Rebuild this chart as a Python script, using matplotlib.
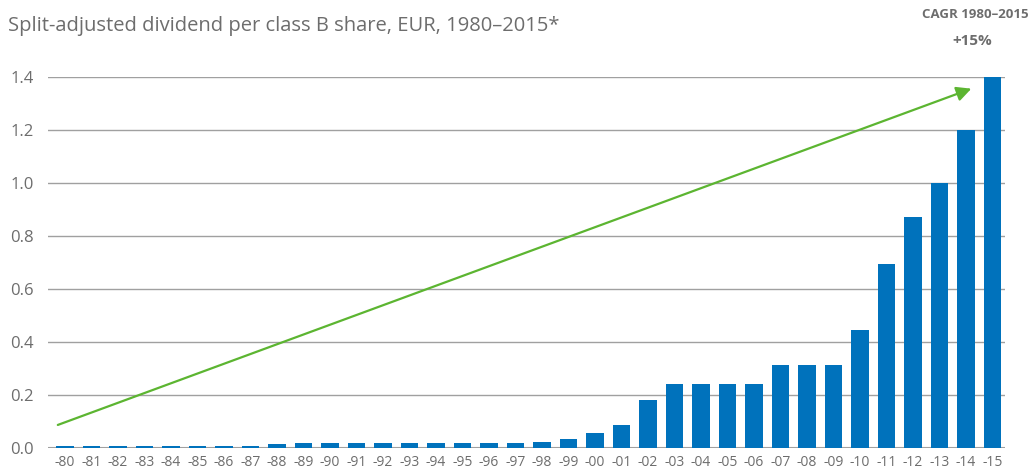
import matplotlib.pyplot as plt
import numpy as np

plt.rcParams['font.family'] = ['Open Sans', 'DejaVu Sans']

# data
years = ['-80', '-81', '-82', '-83', '-84', '-85', '-86', '-87', '-88', '-89',
         '-90', '-91', '-92', '-93', '-94', '-95', '-96', '-97', '-98', '-99',
         '-00', '-01', '-02', '-03', '-04', '-05', '-06', '-07', '-08', '-09',
         '-10', '-11', '-12', '-13', '-14', '-15']
dividend = [0.007, 0.007, 0.007, 0.007, 0.007, 0.007, 0.007, 0.007, 0.014, 0.018,
            0.018, 0.018, 0.018, 0.018, 0.018, 0.018, 0.018, 0.018, 0.021, 0.035,
            0.055, 0.085, 0.18, 0.24, 0.24, 0.24, 0.24, 0.315, 0.315, 0.315,
            0.445, 0.695, 0.87, 1.0, 1.2, 1.4]
yticks = [0.0, 0.2, 0.4, 0.6, 0.8, 1.0, 1.2, 1.4]

grey = '#6d6d6d'
blue = '#0072bc'
green = '#5cb531'

fig = plt.figure(figsize=(10.33, 4.73), dpi=100)
ax = fig.add_axes([48 / 1033, 25 / 473, 957 / 1033, 371 / 473])

x = np.arange(len(years))
ax.bar(x, dividend, width=0.65, color=blue, zorder=3, clip_on=False)

ax.set_xlim(-0.64, 35.47)
ax.set_ylim(0, 1.4)
ax.set_yticks(yticks)
ax.set_yticklabels(['%.1f' % v for v in yticks])
ax.set_xticks(x)
ax.set_xticklabels(years)
ax.tick_params(axis='both', length=0, colors=grey)
ax.tick_params(axis='x', labelsize=10, pad=5)
ax.tick_params(axis='y', labelsize=12, pad=10)
ax.yaxis.grid(True, color='#a0a0a0', linewidth=1, zorder=0)
ax.set_axisbelow(True)
for s in ax.spines.values():
    s.set_visible(False)
ax.axhline(0, color='#a0a0a0', linewidth=1.5, zorder=2)

# CAGR trend arrow
ax.annotate('', xy=(34.2, 1.356), xytext=(-0.27, 0.087),
            arrowprops=dict(arrowstyle='-|>', color=green, lw=1.6,
                            mutation_scale=22, shrinkA=0, shrinkB=0),
            zorder=4, annotation_clip=False)

fig.text(8 / 1033, 1 - 26 / 473, 'Split-adjusted dividend per class B share, EUR, 1980\u20132015*',
         color=grey, fontsize=14.5, va='center', ha='left')
fig.text(1029 / 1033, 1 - 15 / 473, 'CAGR 1980\u20132015', color=grey, fontsize=9.5,
         fontweight='bold', ha='right', va='center')
fig.text(972 / 1033, 1 - 41 / 473, '+15%', color=grey, fontsize=11,
         fontweight='bold', ha='center', va='center')

fig.savefig('out.png', dpi=100)
